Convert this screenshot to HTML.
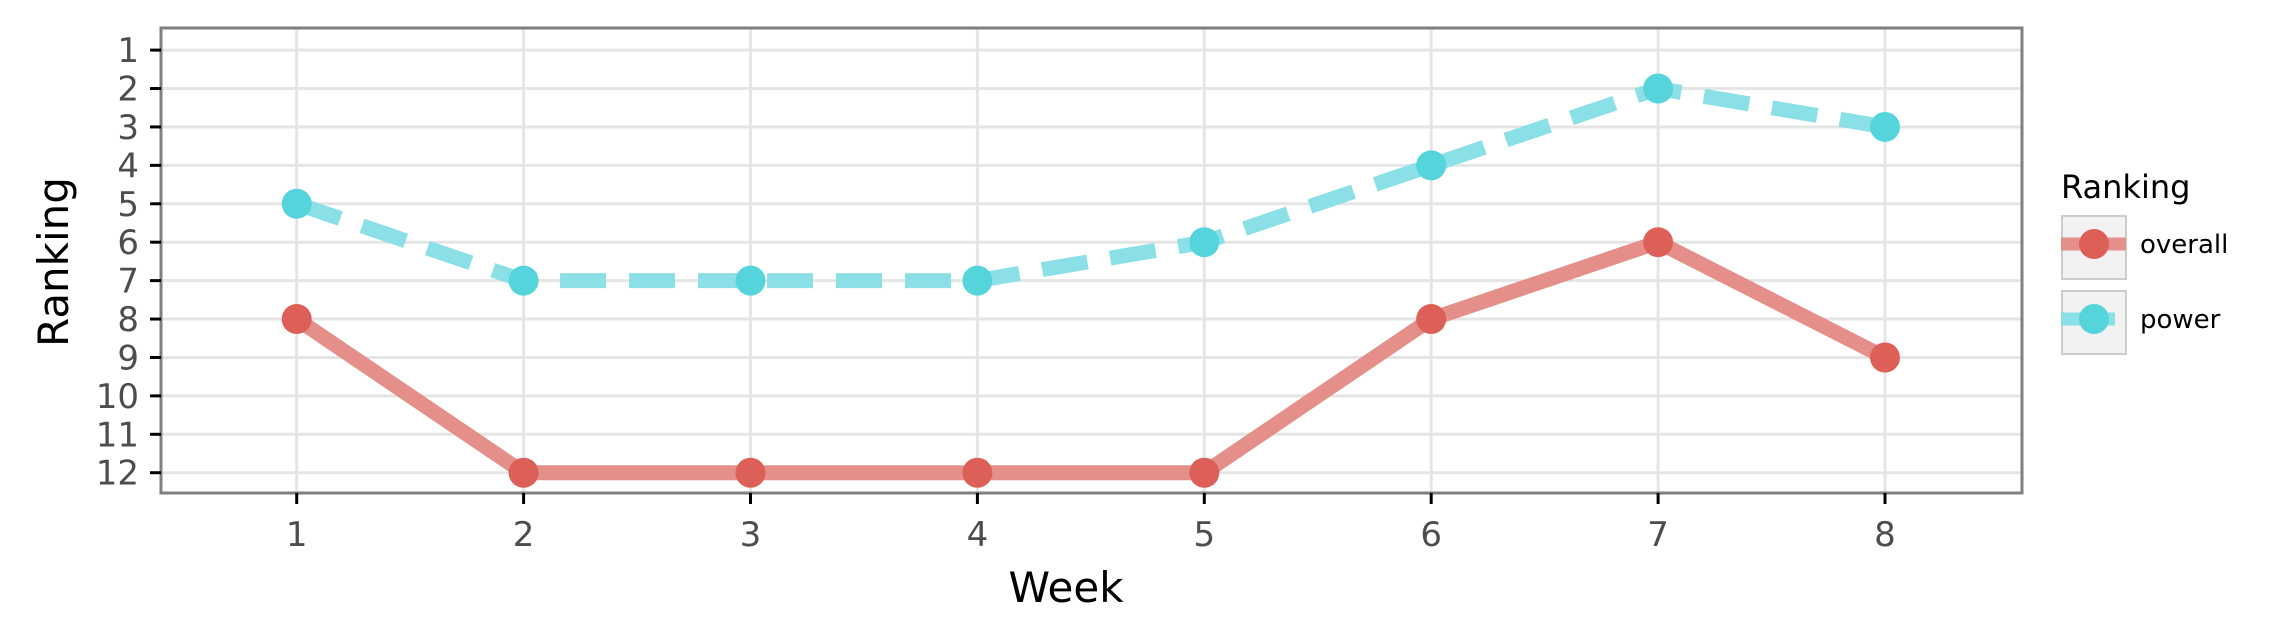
<!DOCTYPE html>
<html><head><meta charset="utf-8"><style>
html,body{margin:0;padding:0;background:#fff;}
svg{display:block;font-family:"DejaVu Sans","Liberation Sans",sans-serif;}
</style></head><body>
<svg id="chart" width="2276" height="641" viewBox="0 0 2276 641"></svg>
<script>
const weeks = [1,2,3,4,5,6,7,8];
const overallRank = [8,12,12,12,12,8,6,9];
const powerRank = [5,7,7,7,6,4,2,3];
const yTicks = [1,2,3,4,5,6,7,8,9,10,11,12];
const seriesNames = ["overall","power"];

const NS="http://www.w3.org/2000/svg";
const svg=document.getElementById('chart');
const L=161,R=2022,T=28,B=493;
const xS=v=>296.7+(v-1)*226.9;
const yS=v=>50.1+(v-1)*38.42;
function mk(tag,attrs,parent){const e=document.createElementNS(NS,tag);for(const k in attrs)e.setAttribute(k,attrs[k]);(parent||svg).appendChild(e);return e;}

const panel=mk('rect',{x:L,y:T,width:R-L,height:B-T,fill:'#fff'});


const grid=mk('g',{});


yTicks.forEach(t=>{mk('line',{x1:L,x2:R,y1:yS(t),y2:yS(t),stroke:'#e5e5e5','stroke-width':3},grid);});
weeks.forEach(w=>{mk('line',{x1:xS(w),x2:xS(w),y1:T,y2:B,stroke:'#e5e5e5','stroke-width':3},grid);});

function series(vals,lineCol,ptCol,dash,name){
  const g=mk('g',{});
  
  
  const pts=weeks.map((w,i)=>xS(w)+','+yS(vals[i])).join(' ');
  const pl=mk('polyline',{points:pts,fill:'none',stroke:lineCol,'stroke-width':15,'stroke-dasharray':dash||'none'},g);
  
  
  weeks.forEach((w,i)=>{
    const c=mk('circle',{cx:xS(w),cy:yS(vals[i]),r:15,fill:ptCol},g);
    
    
  });
}
series(powerRank,'#8ae0e6','#56d4dc','46 23','power');
series(overallRank,'#e48f89','#dc6058',null,'overall');

const frame=mk('rect',{x:L,y:T,width:R-L,height:B-T,fill:'none',stroke:'#7f7f7f','stroke-width':3});



const yax=mk('g',{});


yTicks.forEach(t=>{
  mk('line',{x1:L-11,x2:L,y1:yS(t),y2:yS(t),stroke:'#000','stroke-width':3},yax);
  const tx=mk('text',{x:139,y:yS(t)+12,'text-anchor':'end','font-size':34,fill:'#4d4d4d'},yax);
  tx.textContent=t;
  
  
});
const xax=mk('g',{});


weeks.forEach(w=>{
  mk('line',{x1:xS(w),x2:xS(w),y1:B,y2:B+11,stroke:'#000','stroke-width':3},xax);
  const tx=mk('text',{x:xS(w),y:546,'text-anchor':'middle','font-size':34,fill:'#4d4d4d'},xax);
  tx.textContent=w;
  
  
});
const xt=mk('text',{x:1066,y:602,'text-anchor':'middle','font-size':42,fill:'#000'});
xt.textContent='Week';


const yt=mk('text',{x:0,y:0,'text-anchor':'middle','font-size':42,fill:'#000',transform:'translate(68,262) rotate(-90)'});
yt.textContent='Ranking';



const lg=mk('g',{});


const lt=mk('text',{x:2061,y:198,'font-size':32,fill:'#000'},lg);
lt.textContent='Ranking';


const keys=[{n:seriesNames[0],y:216,lc:'#e48f89',pc:'#dc6058',tw:65},{n:seriesNames[1],y:291,lc:'#8ae0e6',pc:'#56d4dc',tw:54}];
keys.forEach(k=>{
  const e=mk('g',{},lg);
  
  
  mk('rect',{x:2062,y:k.y,width:64,height:63,fill:'#f2f2f2',stroke:'#cccccc','stroke-width':2},e);
  mk('line',{x1:2061,x2:2061+k.tw,y1:k.y+28,y2:k.y+28,stroke:k.lc,'stroke-width':13},e);
  mk('circle',{cx:2094,cy:k.y+28,r:15,fill:k.pc},e);
  const t=mk('text',{x:2140,y:k.y+37,'font-size':26,fill:'#000'},e);
  t.textContent=k.n;
});
</script>
</body></html>
